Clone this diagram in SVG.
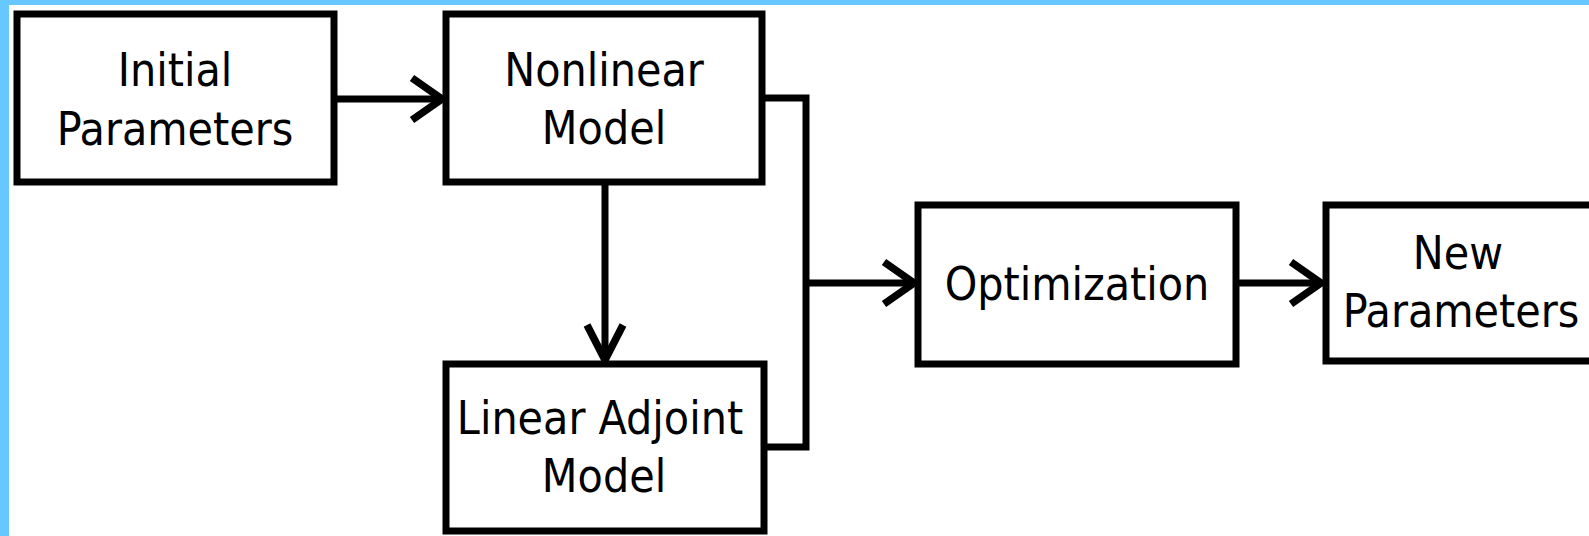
<svg xmlns="http://www.w3.org/2000/svg" width="1589" height="536" viewBox="0 0 1589 536">
<style>
.box{fill:#fff;stroke:#000;stroke-width:7}
.t{font-family:"DejaVu Sans Condensed","DejaVu Sans",sans-serif;font-stretch:condensed;font-size:46px;fill:#000;text-anchor:middle}
.c{fill:none;stroke:#000;stroke-width:7;stroke-linejoin:miter}
.a{fill:none;stroke:#000;stroke-width:7.5;stroke-linejoin:miter}
</style>
<rect x="0" y="0" width="1589" height="536" fill="#fff"/>
<rect x="0" y="0" width="1589" height="5" fill="#66c8fd"/>
<rect x="0" y="0" width="9" height="536" fill="#66c8fd"/>
<g id="connectors">
<path class="c" d="M337 99H441"/>
<path class="a" d="M412 78L442 99L412 120"/>
<path class="c" d="M605 185V359"/>
<path class="a" d="M587 325L605 360L623 325"/>
<path class="c" d="M765 98H806V447H767"/>
<path class="c" d="M806 283H913"/>
<path class="a" d="M884 262L914 283L884 304"/>
<path class="c" d="M1239 283H1321"/>
<path class="a" d="M1291 262L1321 283L1291 304"/>
</g>
<g id="initial"><rect class="box" x="17" y="14" width="317" height="168"/><text class="t" x="175" y="86">Initial</text><text class="t" x="175" y="145">Parameters</text></g>
<g id="nonlinear"><rect class="box" x="446" y="14" width="316" height="168"/><text class="t" x="604" y="86">Nonlinear</text><text class="t" x="604" y="144">Model</text></g>
<g id="adjoint"><rect class="box" x="446" y="364" width="318" height="167"/><text class="t" x="600" y="434">Linear Adjoint</text><text class="t" x="604" y="492">Model</text></g>
<g id="optimization"><rect class="box" x="918" y="205" width="318" height="159"/><text class="t" x="1077" y="300">Optimization</text></g>
<g id="newparams"><rect class="box" x="1326" y="205" width="300" height="156"/><text class="t" x="1458" y="269">New</text><text class="t" x="1461" y="327">Parameters</text></g>
</svg>
